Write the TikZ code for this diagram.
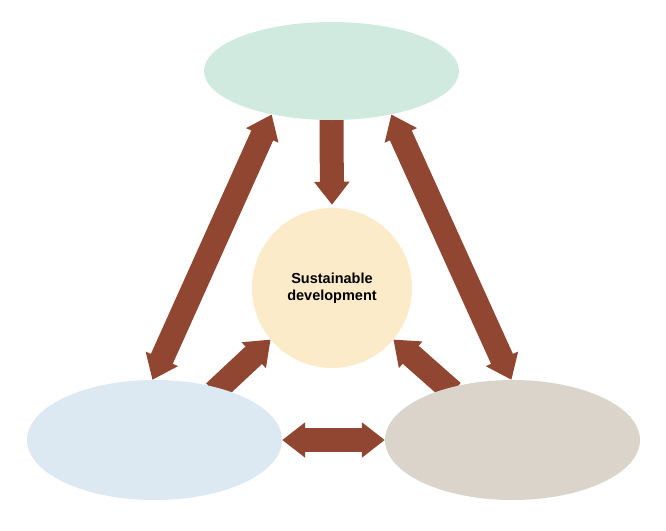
\documentclass[tikz,border=0pt]{standalone}
\usepackage{fontspec}
\setmainfont{Liberation Sans}
\usetikzlibrary{positioning,arrows.meta,shapes.geometric}
\pgfdeclarelayer{bg}
\pgfsetlayers{bg,main}
\definecolor{setacor}{RGB}{145,70,50}
\definecolor{verde}{RGB}{208,234,224}
\definecolor{creme}{RGB}{251,235,201}
\definecolor{azul}{RGB}{220,232,242}
\definecolor{pedra}{RGB}{218,212,203}

\begin{document}
\begin{tikzpicture}[x=1pt, y=-1pt,
                    bola/.style={ellipse, inner sep=0pt, minimum width=255pt, minimum height=120pt},
                    seta/.style={line width=24pt, color=setacor, -{Triangle[width=34pt,length=23pt]}},
                    setadupla/.style={seta, {Triangle[width=34pt,length=23pt]}-{Triangle[width=34pt,length=23pt]}}]
  \useasboundingbox (0,0) rectangle (666,530);
  \node[bola, fill=verde, minimum height=98pt] (topel) at (331.5,71) {};
  \node[circle, fill=creme, inner sep=0pt, minimum size=160pt, align=center,
        font=\fontsize{14.5}{17.5}\selectfont\bfseries] (sd) at (332,288) {Sustainable\\development};
  \node[bola, fill=azul] (leftel) at (154.5,440) {};
  \node[bola, fill=pedra] (rightel) at (512.5,440) {};
  % arrows
  \begin{pgfonlayer}{bg}
    \draw[seta, shorten <=-4pt, shorten >=3pt] (topel.south) -- (sd.north);
    \draw[setadupla] (topel.216.6) -- (leftel.92);
    \draw[setadupla] (topel.324.5) -- (rightel.91);
    \draw[seta, shorten <=-6pt] (leftel.39) -- (sd.220);
    \draw[seta, shorten <=-6pt] (rightel.141) -- (sd.320);
    \draw[setadupla] (leftel.east) -- (rightel.west);
  \end{pgfonlayer}
\end{tikzpicture}
\end{document}
